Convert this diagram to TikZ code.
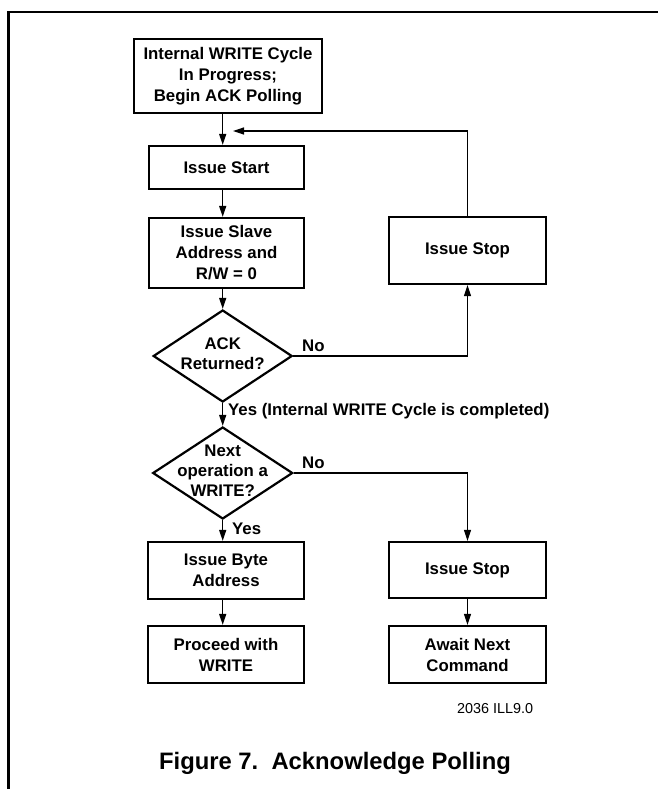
\documentclass[tikz,border=0pt]{standalone}
\usepackage{fontspec}
\setmainfont{Liberation Sans}
\usetikzlibrary{arrows.meta,shapes.geometric}
\begin{document}
\begin{tikzpicture}[x=1pt,y=-1pt,
 box/.style={draw,line width=2.2pt,inner sep=0pt,align=center,font=\fontsize{16.8}{21}\selectfont\bfseries},
 dia/.style={draw,diamond,line width=2.2pt,inner sep=0pt,minimum width=139pt,minimum height=92pt},
 dtext/.style={align=center,inner sep=0pt,font=\fontsize{16.8}{20}\selectfont\bfseries},
 lbl/.style={anchor=west,inner sep=0pt,font=\fontsize{16.8}{20}\selectfont\bfseries},
 arr/.style={line width=1.2pt,-{Triangle[length=11pt,width=7pt]}}]
\useasboundingbox (0,0) rectangle (658,789);
\draw[line width=2.5pt] (8.7,789) -- (8.7,12) -- (658,12);

\node[box,minimum width=188pt,minimum height=74pt] (top) at (228,76) {Internal WRITE Cycle\\In Progress;\\Begin ACK Polling};
\node[box,minimum width=155pt,minimum height=43pt] (start) at (226.5,167.5) {Issue Start};
\node[box,minimum width=155pt,minimum height=70pt] (slave) at (226.5,253) {Issue Slave\\Address and\\R/W = 0};
\node[dia] (ack) at (222.7,356) {};
\node[dtext] (ackt) at (222.7,354) {ACK\\Returned?};
\node[dia,minimum width=140pt] (nxt) at (222.7,473) {};
\node[dtext] (nxtt) at (222.7,471) {Next\\operation a\\WRITE?};
\node[box,minimum width=157pt,minimum height=67pt] (stopa) at (467.5,250.5) {Issue Stop};
\node[box,minimum width=156pt,minimum height=57pt] (byte) at (226,570.5) {Issue Byte\\Address};
\node[box,minimum width=156pt,minimum height=57pt] (proc) at (226,654.5) {Proceed with\\WRITE};
\node[box,minimum width=157pt,minimum height=56pt] (stopb) at (467.5,570) {Issue Stop};
\node[box,minimum width=157pt,minimum height=57pt] (await) at (467.5,654.5) {Await Next\\Command};
\coordinate (fb) at (233,131);

\draw[arr] (top.south -| ack.north) -- (start.north -| ack.north);
\draw[arr] (start.south -| ack.north) -- (slave.north -| ack.north);
\draw[arr] (slave.south -| ack.north) -- (ack.north);
\draw[arr] (ack.south) -- (nxt.north);
\draw[arr] (nxt.south) -- (byte.north -| nxt.south);
\draw[arr] (byte.south -| nxt.south) -- (proc.north -| nxt.south);
\draw[arr] (ack.east) -- (ack.east -| stopa.south) -- (stopa.south);
\draw[arr] (stopa.north) -- (stopa.north |- fb) -- (fb);
\draw[arr] (nxt.east) -- (nxt.east -| stopb.north) -- (stopb.north);
\draw[arr] (stopb.south) -- (await.north);

\node[lbl] (no1) at (302,346) {No};
\node[lbl] (no2) at (302,463) {No};
\node[lbl] (yes1) at (228,411) {Yes (Internal WRITE Cycle is completed)};
\node[lbl] (yes2) at (232,529) {Yes};
\node[anchor=west,inner sep=0pt,font=\fontsize{14.4}{17}\selectfont] (ill) at (457,709) {2036 ILL9.0};
\node[inner sep=0pt,font=\fontsize{23.8}{28}\selectfont\bfseries] (cap) at (335,763) {Figure 7.\ \ Acknowledge Polling};
\end{tikzpicture}
\end{document}
